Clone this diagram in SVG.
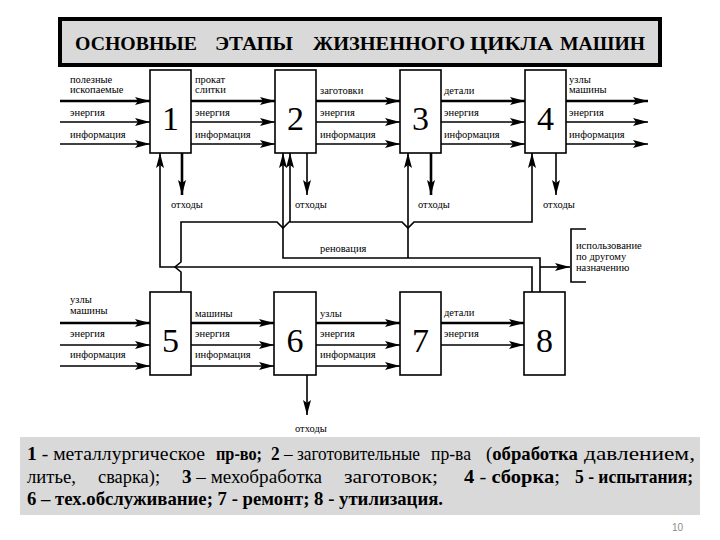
<svg xmlns="http://www.w3.org/2000/svg" width="720" height="540" viewBox="0 0 720 540">
<style>
.box{fill:#fff;stroke:#000;stroke-width:1.6}
.num{font-family:'Liberation Serif','DejaVu Serif','Times New Roman',serif;font-size:34px;text-anchor:middle;fill:#000}
.lbl{font-family:'Liberation Serif','DejaVu Serif','Times New Roman',serif;font-size:10.5px;fill:#000}
.ln{fill:none;stroke:#000;stroke-width:1.6}
.thick{stroke-width:2.6}
.arr{marker-end:url(#ah)}
.cap{font-family:'Liberation Serif','DejaVu Serif','Times New Roman',serif;font-size:19px;fill:#000}
.b{font-weight:bold}
.title{font-family:'Liberation Serif','DejaVu Serif','Times New Roman',serif;font-size:19px;font-weight:bold;fill:#000}
</style>
<defs>
<marker id="ah" markerUnits="userSpaceOnUse" markerWidth="16" markerHeight="10" refX="15" refY="5" orient="auto" overflow="visible">
<path d="M0,1 L15,5 L0,9 L3,5 z" fill="#000"/>
</marker>
</defs>
<rect x="0" y="0" width="720" height="540" fill="#fff"/>

<g id="title">
<rect x="60" y="19" width="600" height="46" fill="#d9d9d9" stroke="#000" stroke-width="4"/>
<text class="title" y="50"><tspan x="75" textLength="122" lengthAdjust="spacingAndGlyphs">ОСНОВНЫЕ</tspan><tspan x="215" textLength="78" lengthAdjust="spacingAndGlyphs">ЭТАПЫ</tspan><tspan x="313" textLength="152" lengthAdjust="spacingAndGlyphs">ЖИЗНЕННОГО</tspan><tspan x="470" textLength="83" lengthAdjust="spacingAndGlyphs">ЦИКЛА</tspan><tspan x="560" textLength="85" lengthAdjust="spacingAndGlyphs">МАШИН</tspan></text>
</g>

<g id="connectors">
<path class="ln thick arr" d="M60,101 H150"/>
<path class="ln thick arr" d="M191,101 H275"/>
<path class="ln thick arr" d="M316,101 H400"/>
<path class="ln thick arr" d="M441,101 H525"/>
<path class="ln thick arr" d="M566,101 H648"/>
<path class="ln arr" d="M60,122 H150"/>
<path class="ln arr" d="M191,122 H275"/>
<path class="ln arr" d="M316,122 H400"/>
<path class="ln arr" d="M441,122 H525"/>
<path class="ln arr" d="M566,122 H648"/>
<path class="ln arr" d="M60,144 H150"/>
<path class="ln arr" d="M191,144 H275"/>
<path class="ln arr" d="M316,144 H400"/>
<path class="ln arr" d="M441,144 H525"/>
<path class="ln arr" d="M566,144 H648"/>
<path class="ln thick arr" d="M60,323 H150"/>
<path class="ln thick arr" d="M191,323 H274"/>
<path class="ln thick arr" d="M316,323 H400"/>
<path class="ln thick arr" d="M441,323 H524"/>
<path class="ln arr" d="M60,345 H150"/>
<path class="ln arr" d="M191,345 H274"/>
<path class="ln arr" d="M316,345 H400"/>
<path class="ln arr" d="M441,345 H524"/>
<path class="ln arr" d="M60,366 H150"/>
<path class="ln arr" d="M191,366 H274"/>
<path class="ln arr" d="M316,366 H400"/>
<path class="ln thick arr" d="M182,153 V195"/>
<path class="ln arr" d="M307,153 V195"/>
<path class="ln thick arr" d="M431,153 V195"/>
<path class="ln arr" d="M556,153 V195"/>
<path class="ln arr" d="M307,375 V415"/>
<path class="ln arr" d="M181,292 V272 L175,267 L181,262 V222 H277 L283,228 L289,222 H402 L408,228 L414,222 H532 V153"/>
<path class="ln arr" d="M290,222 V153"/>
<path class="ln arr" d="M532,292 V267 H160 V153"/>
<path class="ln arr" d="M540,292 V258 H283 V153"/>
<path class="ln arr" d="M408,258 V153"/>
<path class="ln arr" d="M540,267 H570"/>
<path class="ln" d="M586,229 H571 V282 H586"/>
</g>

<g id="box1"><rect class="box" x="150" y="70" width="41" height="83"/><text class="num" x="170.5" y="130">1</text></g>
<g id="box2"><rect class="box" x="275" y="70" width="41" height="83"/><text class="num" x="295.5" y="130">2</text></g>
<g id="box3"><rect class="box" x="400" y="70" width="41" height="83"/><text class="num" x="420.5" y="130">3</text></g>
<g id="box4"><rect class="box" x="525" y="70" width="41" height="83"/><text class="num" x="545.5" y="130">4</text></g>
<g id="box5"><rect class="box" x="150" y="292" width="41" height="83"/><text class="num" x="170.5" y="352">5</text></g>
<g id="box6"><rect class="box" x="274" y="292" width="42" height="83"/><text class="num" x="295" y="352">6</text></g>
<g id="box7"><rect class="box" x="400" y="292" width="41" height="83"/><text class="num" x="420.5" y="352">7</text></g>
<g id="box8"><rect class="box" x="524" y="292" width="41" height="83"/><text class="num" x="544.5" y="352">8</text></g>

<g id="labels" class="lbl">
<text x="70" y="83">полезные</text><text x="70" y="93">ископаемые</text><text x="70" y="116">энергия</text><text x="70" y="138">информация</text>
<text x="195" y="83">прокат</text><text x="195" y="93">слитки</text><text x="195" y="116">энергия</text><text x="195" y="138">информация</text>
<text x="320" y="94">заготовки</text><text x="320" y="116">энергия</text><text x="320" y="138">информация</text>
<text x="444" y="94">детали</text><text x="444" y="116">энергия</text><text x="444" y="138">информация</text>
<text x="569" y="83">узлы</text><text x="569" y="93">машины</text><text x="569" y="116">энергия</text><text x="569" y="138">информация</text>
<text x="171" y="208">отходы</text><text x="295" y="208">отходы</text><text x="418" y="208">отходы</text><text x="543" y="208">отходы</text>
<text x="320" y="252">реновация</text>
<text x="576" y="249">использование</text><text x="576" y="260">по другому</text><text x="576" y="271">назначению</text>
<text x="70" y="303">узлы</text><text x="70" y="314">машины</text><text x="70" y="337">энергия</text><text x="70" y="358">информация</text>
<text x="195" y="317">машины</text><text x="195" y="337">энергия</text><text x="195" y="358">информация</text>
<text x="320" y="317">узлы</text><text x="320" y="337">энергия</text><text x="320" y="358">информация</text>
<text x="444" y="316">детали</text><text x="444" y="337">энергия</text>
<text x="295" y="432">отходы</text>
</g>

<g id="caption">
<rect x="20" y="437" width="680" height="78" fill="#d9d9d9"/>
<text class="cap" y="460">
<tspan x="27" textLength="178" lengthAdjust="spacingAndGlyphs"><tspan class="b">1</tspan> - металлургическое</tspan>
<tspan x="216" textLength="46" lengthAdjust="spacingAndGlyphs" class="b">пр-во;</tspan>
<tspan x="271" textLength="149" lengthAdjust="spacingAndGlyphs"><tspan class="b">2</tspan> – заготовительные</tspan>
<tspan x="431" textLength="40" lengthAdjust="spacingAndGlyphs">пр-ва</tspan>
<tspan x="486" textLength="92" lengthAdjust="spacingAndGlyphs">(<tspan class="b">обработка</tspan></tspan>
<tspan x="584" textLength="111" lengthAdjust="spacingAndGlyphs">давлением,</tspan>
</text>
<text class="cap" y="483">
<tspan x="27" textLength="49" lengthAdjust="spacingAndGlyphs">литье,</tspan>
<tspan x="98" textLength="62" lengthAdjust="spacingAndGlyphs">сварка);</tspan>
<tspan x="182" textLength="140" lengthAdjust="spacingAndGlyphs"><tspan class="b">3</tspan> – мехобработка</tspan>
<tspan x="344" textLength="94" lengthAdjust="spacingAndGlyphs">заготовок;</tspan>
<tspan x="464" textLength="96" lengthAdjust="spacingAndGlyphs"><tspan class="b">4</tspan> - <tspan class="b">сборка</tspan>;</tspan>
<tspan x="575" textLength="118" lengthAdjust="spacingAndGlyphs" class="b">5 - испытания;</tspan>
</text>
<text class="cap b" x="27" y="505" textLength="416" lengthAdjust="spacingAndGlyphs">6 – тех.обслуживание; 7 - ремонт; 8 - утилизация.</text>
<text x="672" y="531" font-family="'Liberation Sans', sans-serif" font-size="10" fill="#8c8c8c">10</text>
</g>
</svg>
